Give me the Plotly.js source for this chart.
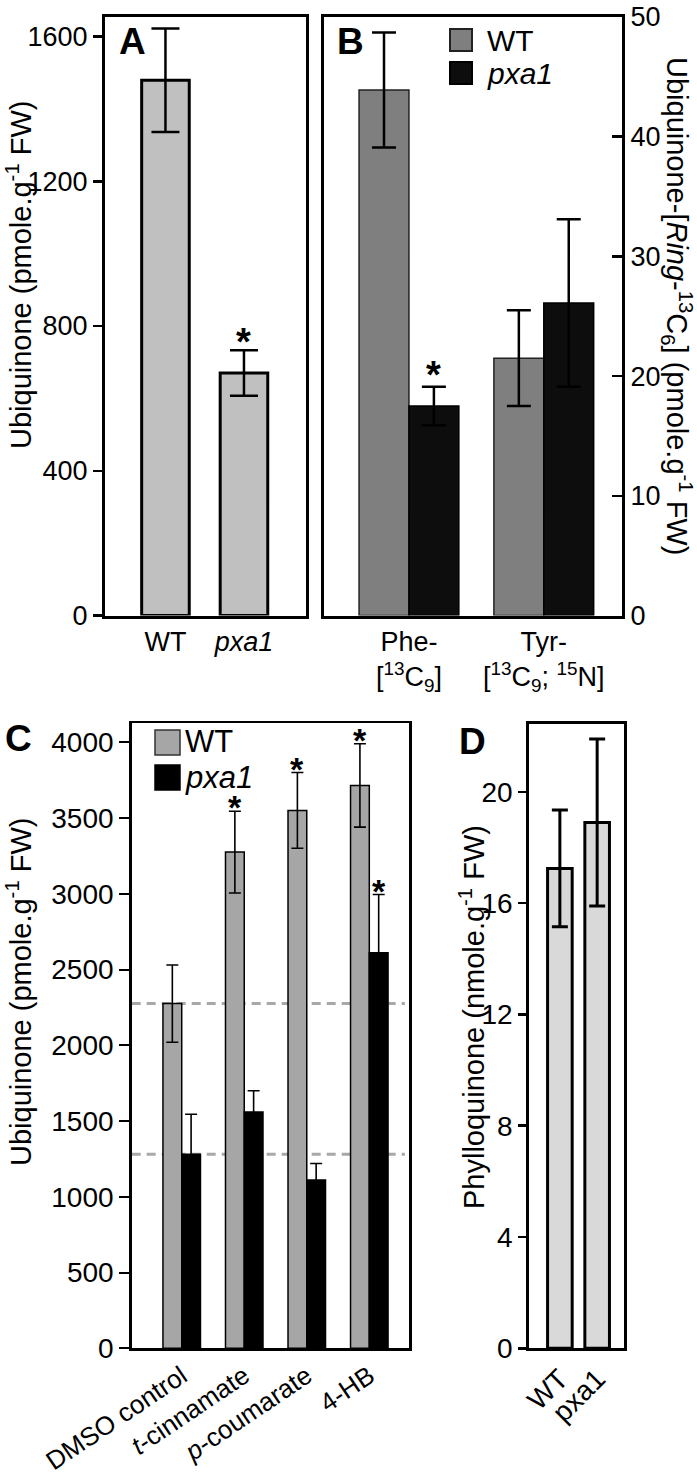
<!DOCTYPE html>
<html>
<head>
<meta charset="utf-8">
<script src="https://cdn.plot.ly/plotly-3.0.1.min.js"></script>
<style>
  html, body { margin: 0; padding: 0; background: #fff; }
  #chart { width: 697px; height: 1475px; }
</style>
</head>
<body>
<div id="chart"></div>
<script>
// Panel A — total ubiquinone
const aCats = ["WT", "<i>pxa1</i>"];
const aVals = [1479, 670];
const aErr = [143, 63];
const aSig = [false, true];

// Panel B — labelled ubiquinone from Phe / Tyr feeding
const bCats = ["Phe-<br>[<sup>13</sup>C<sub>9</sub>]", "Tyr-<br>[<sup>13</sup>C<sub>9</sub>; <sup>15</sup>N]"];
const bWT = [43.9, 21.5];
const bWTErr = [4.8, 4.0];
const bPx = [17.5, 26.1];
const bPxErr = [1.6, 7.0];
const bSigPx = [true, false];

// Panel C — feeding with precursors
const cCats = ["DMSO control", "<i>t</i>-cinnamate", "<i>p</i>-coumarate", "4-HB"];
const cWT = [2275, 3275, 3550, 3715];
const cWTErr = [255, 270, 250, 275];
const cPx = [1280, 1560, 1110, 2610];
const cPxErr = [265, 140, 110, 385];
const cSigWT = [false, true, true, true];
const cSigPx = [false, false, false, true];

// Panel D — phylloquinone
const dCats = ["WT", "pxa1"];
const dVals = [17.25, 18.9];
const dErr = [2.1, 3.0];

const W = 697, H = 1475;
const px = (x) => x / W;
const py = (y) => 1 - y / H;
const FONT = "Liberation Sans, Arial, sans-serif";
const idx = (arr) => arr.map((_, i) => i);

function barTrace(vals, errs, opt) {
  return {
    type: "bar",
    x: idx(vals), y: vals,
    width: opt.width, offset: opt.offset,
    xaxis: opt.xa, yaxis: opt.ya,
    marker: { color: opt.color, line: { color: opt.lineColor || "#000", width: opt.lineWidth } },
    error_y: { type: "data", array: errs, visible: true, color: "#000", thickness: opt.errThick, width: opt.capW },
    hoverinfo: "skip",
  };
}

const traces = [
  barTrace(aVals, aErr, { xa: "x", ya: "y", width: 0.606, offset: -0.303, color: "#c0c0c0", lineWidth: 3, errThick: 2.5, capW: 14 }),
  barTrace(bWT, bWTErr, { xa: "x2", ya: "y2", width: 0.37, offset: -0.37, color: "#7f7f7f", lineColor: "#222", lineWidth: 1.5, errThick: 2.5, capW: 12 }),
  barTrace(bPx, bPxErr, { xa: "x2", ya: "y2", width: 0.37, offset: 0, color: "#0d0d0d", lineColor: "#000", lineWidth: 1.5, errThick: 2.5, capW: 12 }),
  barTrace(cWT, cWTErr, { xa: "x3", ya: "y3", width: 0.3, offset: -0.3, color: "#a6a6a6", lineWidth: 1.5, errThick: 1.6, capW: 6 }),
  barTrace(cPx, cPxErr, { xa: "x3", ya: "y3", width: 0.3, offset: 0, color: "#000", lineWidth: 1.5, errThick: 1.6, capW: 6 }),
  barTrace(dVals, dErr, { xa: "x4", ya: "y4", width: 0.66, offset: -0.33, color: "#d9d9d9", lineWidth: 3, errThick: 3, capW: 8 }),
];

function frameAxis(extra) {
  return Object.assign({
    showline: true, mirror: true, linecolor: "#000", linewidth: 3,
    showgrid: false, zeroline: false, fixedrange: true,
    tickfont: { family: FONT, size: 27, color: "#000" },
    ticks: "", tickcolor: "#000",
  }, extra);
}
const bigTick = { family: FONT, size: 28, color: "#000" };

const layout = {
  width: W, height: H,
  margin: { l: 0, r: 0, t: 0, b: 0 },
  paper_bgcolor: "#fff", plot_bgcolor: "rgba(0,0,0,0)",
  showlegend: false, barmode: "overlay",
  font: { family: FONT, color: "#000" },

  xaxis: frameAxis({ domain: [px(105), px(306)], range: [-0.77, 1.79], anchor: "y",
    tickvals: idx(aCats), ticktext: aCats }),
  yaxis: frameAxis({ domain: [py(615.5), py(17)], range: [0, 1654], anchor: "x",
    tickvals: [0, 400, 800, 1200, 1600], ticks: "outside", ticklen: 9, tickwidth: 2.5 }),

  xaxis2: frameAxis({ domain: [px(324), px(622)], range: [-0.63, 1.58], anchor: "y2",
    tickvals: idx(bCats), ticktext: bCats }),
  yaxis2: frameAxis({ domain: [py(615.5), py(17)], range: [0, 50], anchor: "x2", side: "right",
    tickvals: [0, 10, 20, 30, 40, 50], ticks: "inside", ticklen: 10, tickwidth: 2.5 }),

  xaxis3: frameAxis({ domain: [px(131.7), px(409)], range: [-0.8, 3.635], anchor: "y3", linewidth: 2.5,
    tickvals: idx(cCats), ticktext: cCats, tickangle: -34,
    tickfont: { family: FONT, size: 26, color: "#000" } }),
  yaxis3: frameAxis({ domain: [py(1348.3), py(723.3)], range: [0, 4125], anchor: "x3", linewidth: 2.5,
    dtick: 500, ticks: "outside", ticklen: 10, tickwidth: 2, tickfont: bigTick }),

  xaxis4: frameAxis({ domain: [px(529.3), px(624)], range: [-0.82, 1.72], anchor: "y4",
    tickvals: idx(dCats), ticktext: dCats, tickangle: -45, tickfont: bigTick }),
  yaxis4: frameAxis({ domain: [py(1348.3), py(724)], range: [0, 22.44], anchor: "x4",
    tickvals: [0, 4, 8, 12, 16, 20], ticks: "outside", ticklen: 8, tickwidth: 2.5, tickfont: bigTick }),
};

// reference lines at DMSO control levels
layout.shapes = [
  { type: "line", xref: "x3 domain", yref: "y3", x0: 0, x1: 0.985, y0: cWT[0], y1: cWT[0], layer: "below",
    line: { color: "#a8a8a8", width: 3, dash: "9px,6px" } },
  { type: "line", xref: "x3 domain", yref: "y3", x0: 0, x1: 0.985, y0: cPx[0], y1: cPx[0], layer: "below",
    line: { color: "#a8a8a8", width: 3, dash: "9px,6px" } },
  // legend swatches
  { type: "rect", xref: "paper", yref: "paper", x0: px(450), x1: px(472), y0: py(51), y1: py(29), fillcolor: "#7f7f7f", line: { color: "#222", width: 2 } },
  { type: "rect", xref: "paper", yref: "paper", x0: px(450), x1: px(472), y0: py(84), y1: py(62), fillcolor: "#0d0d0d", line: { color: "#000", width: 2 } },
  { type: "rect", xref: "paper", yref: "paper", x0: px(155), x1: px(180), y0: py(755), y1: py(730), fillcolor: "#a6a6a6", line: { color: "#333", width: 1.5 } },
  { type: "rect", xref: "paper", yref: "paper", x0: px(155), x1: px(180), y0: py(790), y1: py(765), fillcolor: "#000", line: { color: "#000", width: 1.5 } },
];

const ann = [];
function paperText(text, x, y, size, extra) {
  ann.push(Object.assign({ text, xref: "paper", yref: "paper", x: px(x), y: py(y), showarrow: false,
    font: { family: FONT, size, color: "#000" }, xanchor: "center", yanchor: "middle" }, extra));
}
// panel letters
paperText("<b>A</b>", 132, 42, 37);
paperText("<b>B</b>", 350, 41, 37);
paperText("<b>C</b>", 18, 738, 37);
paperText("<b>D</b>", 472, 741, 37);
// axis titles
paperText("Ubiquinone (pmole.g<sup>-1</sup> FW)", 19, 275, 29, { textangle: -90 });
paperText("Ubiquinone-[<i>Ring</i>-<sup>13</sup>C<sub>6</sub>] (pmole.g<sup>-1</sup> FW)", 677, 306, 29, { textangle: 90 });
paperText("Ubiquinone (pmole.g<sup>-1</sup> FW)", 19, 992, 29, { textangle: -90 });
paperText("Phylloquinone (nmole.g<sup>-1</sup> FW)", 472, 1017, 29, { textangle: -90 });
// legends
paperText("WT", 485, 40, 30, { xanchor: "left" });
paperText("<i>pxa1</i>", 485, 73, 30, { xanchor: "left" });
paperText("WT", 183, 742, 31, { xanchor: "left" });
paperText("<i>pxa1</i>", 183, 777, 31, { xanchor: "left" });

// significance asterisks
function star(xa, ya, x, y, size, shift) {
  ann.push({ text: "<b>*</b>", xref: xa, yref: ya, x, y, showarrow: false, yanchor: "middle",
    yshift: shift, font: { family: FONT, size, color: "#000" } });
}
aSig.forEach((s, i) => { if (s) star("x", "y", i, aVals[i] + aErr[i], 38, 8); });
bSigPx.forEach((s, i) => { if (s) star("x2", "y2", i + 0.185, bPx[i] + bPxErr[i], 38, 12); });
cSigWT.forEach((s, i) => { if (s) star("x3", "y3", i - 0.15, cWT[i] + cWTErr[i], 34, 4); });
cSigPx.forEach((s, i) => { if (s) star("x3", "y3", i + 0.15, cPx[i] + cPxErr[i], 34, 4); });
layout.annotations = ann;

Plotly.newPlot("chart", traces, layout, { displayModeBar: false, staticPlot: true });
</script>
</body>
</html>
